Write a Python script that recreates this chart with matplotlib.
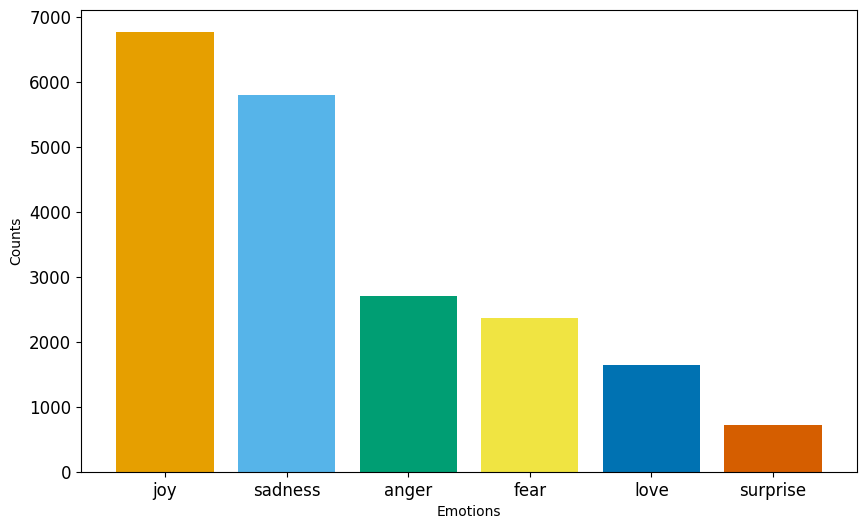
import matplotlib
matplotlib.use("Agg")
import matplotlib.pyplot as plt

emotions = ["joy", "sadness", "anger", "fear", "love", "surprise"]
counts = [6761, 5797, 2709, 2373, 1641, 719]
colors = ["#E69F00", "#56B4E9", "#009E73", "#F0E442", "#0072B2", "#D55E00"]

W, H = 866, 529
fig = plt.figure(figsize=(W / 100, H / 100), dpi=100)
ax = fig.add_axes([81 / W, (H - 472) / H, (857 - 81) / W, (472 - 10) / H])
ax.bar(emotions, counts, color=colors)
ax.set_xlabel("Emotions")
ax.set_ylabel("Counts")
ax.tick_params(axis="both", labelsize=12)
ax.set_ylim(0, 7100)
fig.savefig("out.png", dpi=100)
